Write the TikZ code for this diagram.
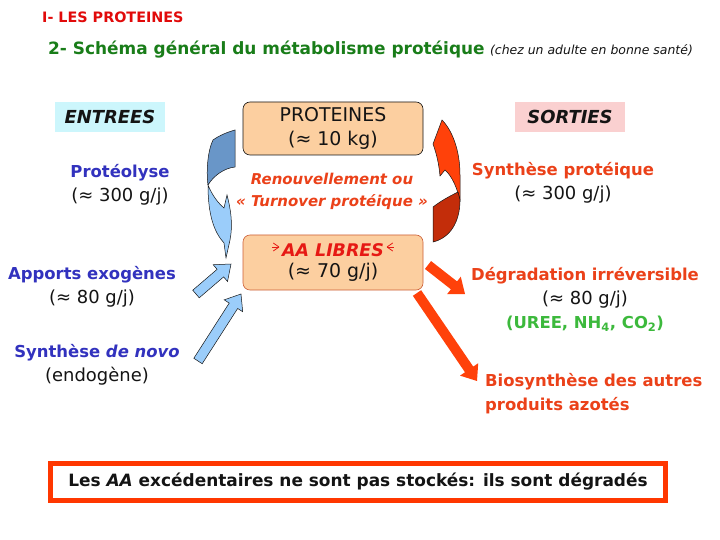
\documentclass[tikz,border=0pt]{standalone}
\usepackage{fontspec}
\setmainfont{DejaVu Sans}
\usetikzlibrary{calc,positioning}
\definecolor{ink}{RGB}{20,20,20}
\definecolor{titlered}{RGB}{225,10,10}
\definecolor{titlegreen}{RGB}{25,125,25}
\definecolor{inblue}{RGB}{50,50,190}
\definecolor{outred}{RGB}{235,65,25}
\definecolor{aared}{RGB}{230,25,20}
\definecolor{wastegreen}{RGB}{60,185,60}
\definecolor{peach}{RGB}{252,207,160}
\definecolor{peachline}{RGB}{205,95,55}
\definecolor{entfill}{RGB}{204,246,252}
\definecolor{sortfill}{RGB}{250,208,208}
\definecolor{blueface}{RGB}{155,205,250}
\definecolor{blueback}{RGB}{105,150,200}
\definecolor{redface}{RGB}{255,65,10}
\definecolor{redback}{RGB}{195,45,10}
\definecolor{frame}{RGB}{255,55,0}
\newcommand{\val}[1]{{\mdseries\upshape\color{ink}\fontsize{18}{24}\selectfont#1}}
\newcommand{\blockarrow}[3][]{%
  \path[#1] ($(#2)!5bp!90:(#3)$) -- ($(#3)!14bp!(#2)!5bp!-90:(#2)$)
    -- ($(#3)!14bp!(#2)!11bp!-90:(#2)$) -- (#3)
    -- ($(#3)!14bp!(#2)!11bp!90:(#2)$) -- ($(#3)!14bp!(#2)!5bp!90:(#2)$)
    -- ($(#2)!5bp!-90:(#3)$) -- cycle;}
\tikzset{
  heading/.style={font=\bfseries\fontsize{14.4}{16}\selectfont, text=titlered, anchor=west, inner sep=0pt},
  subhead/.style={font=\bfseries\fontsize{17}{20}\selectfont, text=titlegreen, anchor=west, inner sep=0pt},
  aside/.style={font=\itshape\fontsize{12.5}{14}\selectfont, text=ink, inner sep=0pt},
  tag/.style={minimum width=110bp, minimum height=30bp, inner sep=0pt, font=\bfseries\itshape\fontsize{18}{20}\selectfont, text=ink},
  pool/.style={draw=ink, line width=0.6pt, rounded corners=7bp, fill=peach, minimum width=180bp, minimum height=53bp, align=center, inner sep=0pt, font=\fontsize{19}{24}\selectfont, text=ink},
  inlbl/.style={align=center, inner sep=0pt, font=\bfseries\fontsize{16.5}{24}\selectfont, text=inblue},
  outlbl/.style={inlbl, text=outred},
  turn/.style={align=center, inner sep=0pt, font=\bfseries\itshape\fontsize{15}{22}\selectfont, text=outred},
  verdict/.style={draw=frame, line width=5bp, fill=white, minimum width=615bp, minimum height=37bp, inner sep=0pt, font=\bfseries\fontsize{17}{20}\selectfont, text=ink},
  spark/.style={draw=aared, line width=0.8pt},
  edge/.style={draw=ink, line width=0.5pt},
  inarrow/.style={fill=blueface, edge},
  outarrow/.style={fill=redface},
}
\begin{document}
\begin{tikzpicture}[x=1bp, y=-1bp]
  \useasboundingbox[fill=white] (0,0) rectangle (720,540);
  \node[heading] (part) at (42,17) {I- LES PROTEINES};
  \node[subhead] (subtitle) at (48,50) {2- Schéma général du métabolisme protéique};
  \node[aside, base right=5bp of subtitle] (adult) {(chez un adulte en bonne santé)};

  \node[tag, fill=entfill] (in) at (110,117) {ENTREES};
  \node[tag, fill=sortfill] (out) at (570,117) {SORTIES};
  \node[pool] (prot) at (333,128.5) {PROTEINES\\(≈ 10 kg)};
  \node[turn] (turnover) at (332,191) {Renouvellement ou\\« Turnover protéique »};
  \node[pool, draw=peachline, minimum height=55bp, font=\fontsize{19}{22}\selectfont] (aa) at (333,262.5) {\textcolor{aared}{\bfseries\itshape\fontsize{17.5}{22}\selectfont AA LIBRES}\\(≈ 70 g/j)};
  \foreach \a in {145,180,215} \draw[spark] (279,247) -- ++(\a:7);
  \foreach \a in {35,0,-35} \draw[spark] (387,247) -- ++(\a:7);

  \node[inlbl] (proteo) at (120,184.5) {Protéolyse\\\val{(≈ 300 g/j)}};
  \node[inlbl] (exo) at (92,286.5) {Apports exogènes\\\val{(≈ 80 g/j)}};
  \node[inlbl] (novo) at (97,365) {Synthèse \textit{de novo}\\\val{(endogène)}};
  \node[outlbl] (synth) at (563,183) {Synthèse protéique\\\val{(≈ 300 g/j)}};
  \node[outlbl] (degr) at (585,299.5) {Dégradation irréversible\\\val{(≈ 80 g/j)}\\\textcolor{wastegreen}{(UREE, NH\textsubscript{4}, CO\textsubscript{2})}};
  \node[outlbl, align=left, anchor=west] (bios) at (485,394) {Biosynthèse des autres\\produits azotés};
  \node[verdict] (stock) at (358,482) {Les \textit{AA} excédentaires ne sont pas stockés: ils sont dégradés};

  \path[fill=blueback, edge] (213,140) .. controls (220,135) and (228,132) .. (235,130) -- (235,167)
    .. controls (225,168) and (214,175) .. (208,185) .. controls (206,170) and (208,150) .. (213,140) -- cycle;
  \path[fill=blueface, edge] (208,185) .. controls (212,195) and (218,203) .. (224,208) -- (227,195)
    .. controls (231,210) and (233,225) .. (230,240) -- (226,258) -- (224,243)
    .. controls (214,232) and (208,215) .. (208,185) -- cycle;
  \path[fill=redface, edge] (442,120) .. controls (452,130) and (460,150) .. (460,175) -- (460,200)
    .. controls (457,188) and (452,176) .. (445,170) -- (440,176) .. controls (439,165) and (437,155) .. (433,144) -- cycle;
  \path[fill=redback, edge] (433,207) .. controls (442,200) and (452,195) .. (458,192) -- (460,200)
    .. controls (460,222) and (450,238) .. (433,242) -- cycle;

  \coordinate (exotail) at (196,294);  \coordinate (exotip) at (231,264);
  \coordinate (novotail) at (198,361); \coordinate (novotip) at (241,294);
  \coordinate (degtail) at (428,265);  \coordinate (degtip) at (465,294);
  \coordinate (biotail) at (417,293);  \coordinate (biotip) at (477,381);
  \blockarrow[inarrow]{exotail}{exotip}
  \blockarrow[inarrow]{novotail}{novotip}
  \blockarrow[outarrow]{degtail}{degtip}
  \blockarrow[outarrow]{biotail}{biotip}
\end{tikzpicture}
\end{document}
